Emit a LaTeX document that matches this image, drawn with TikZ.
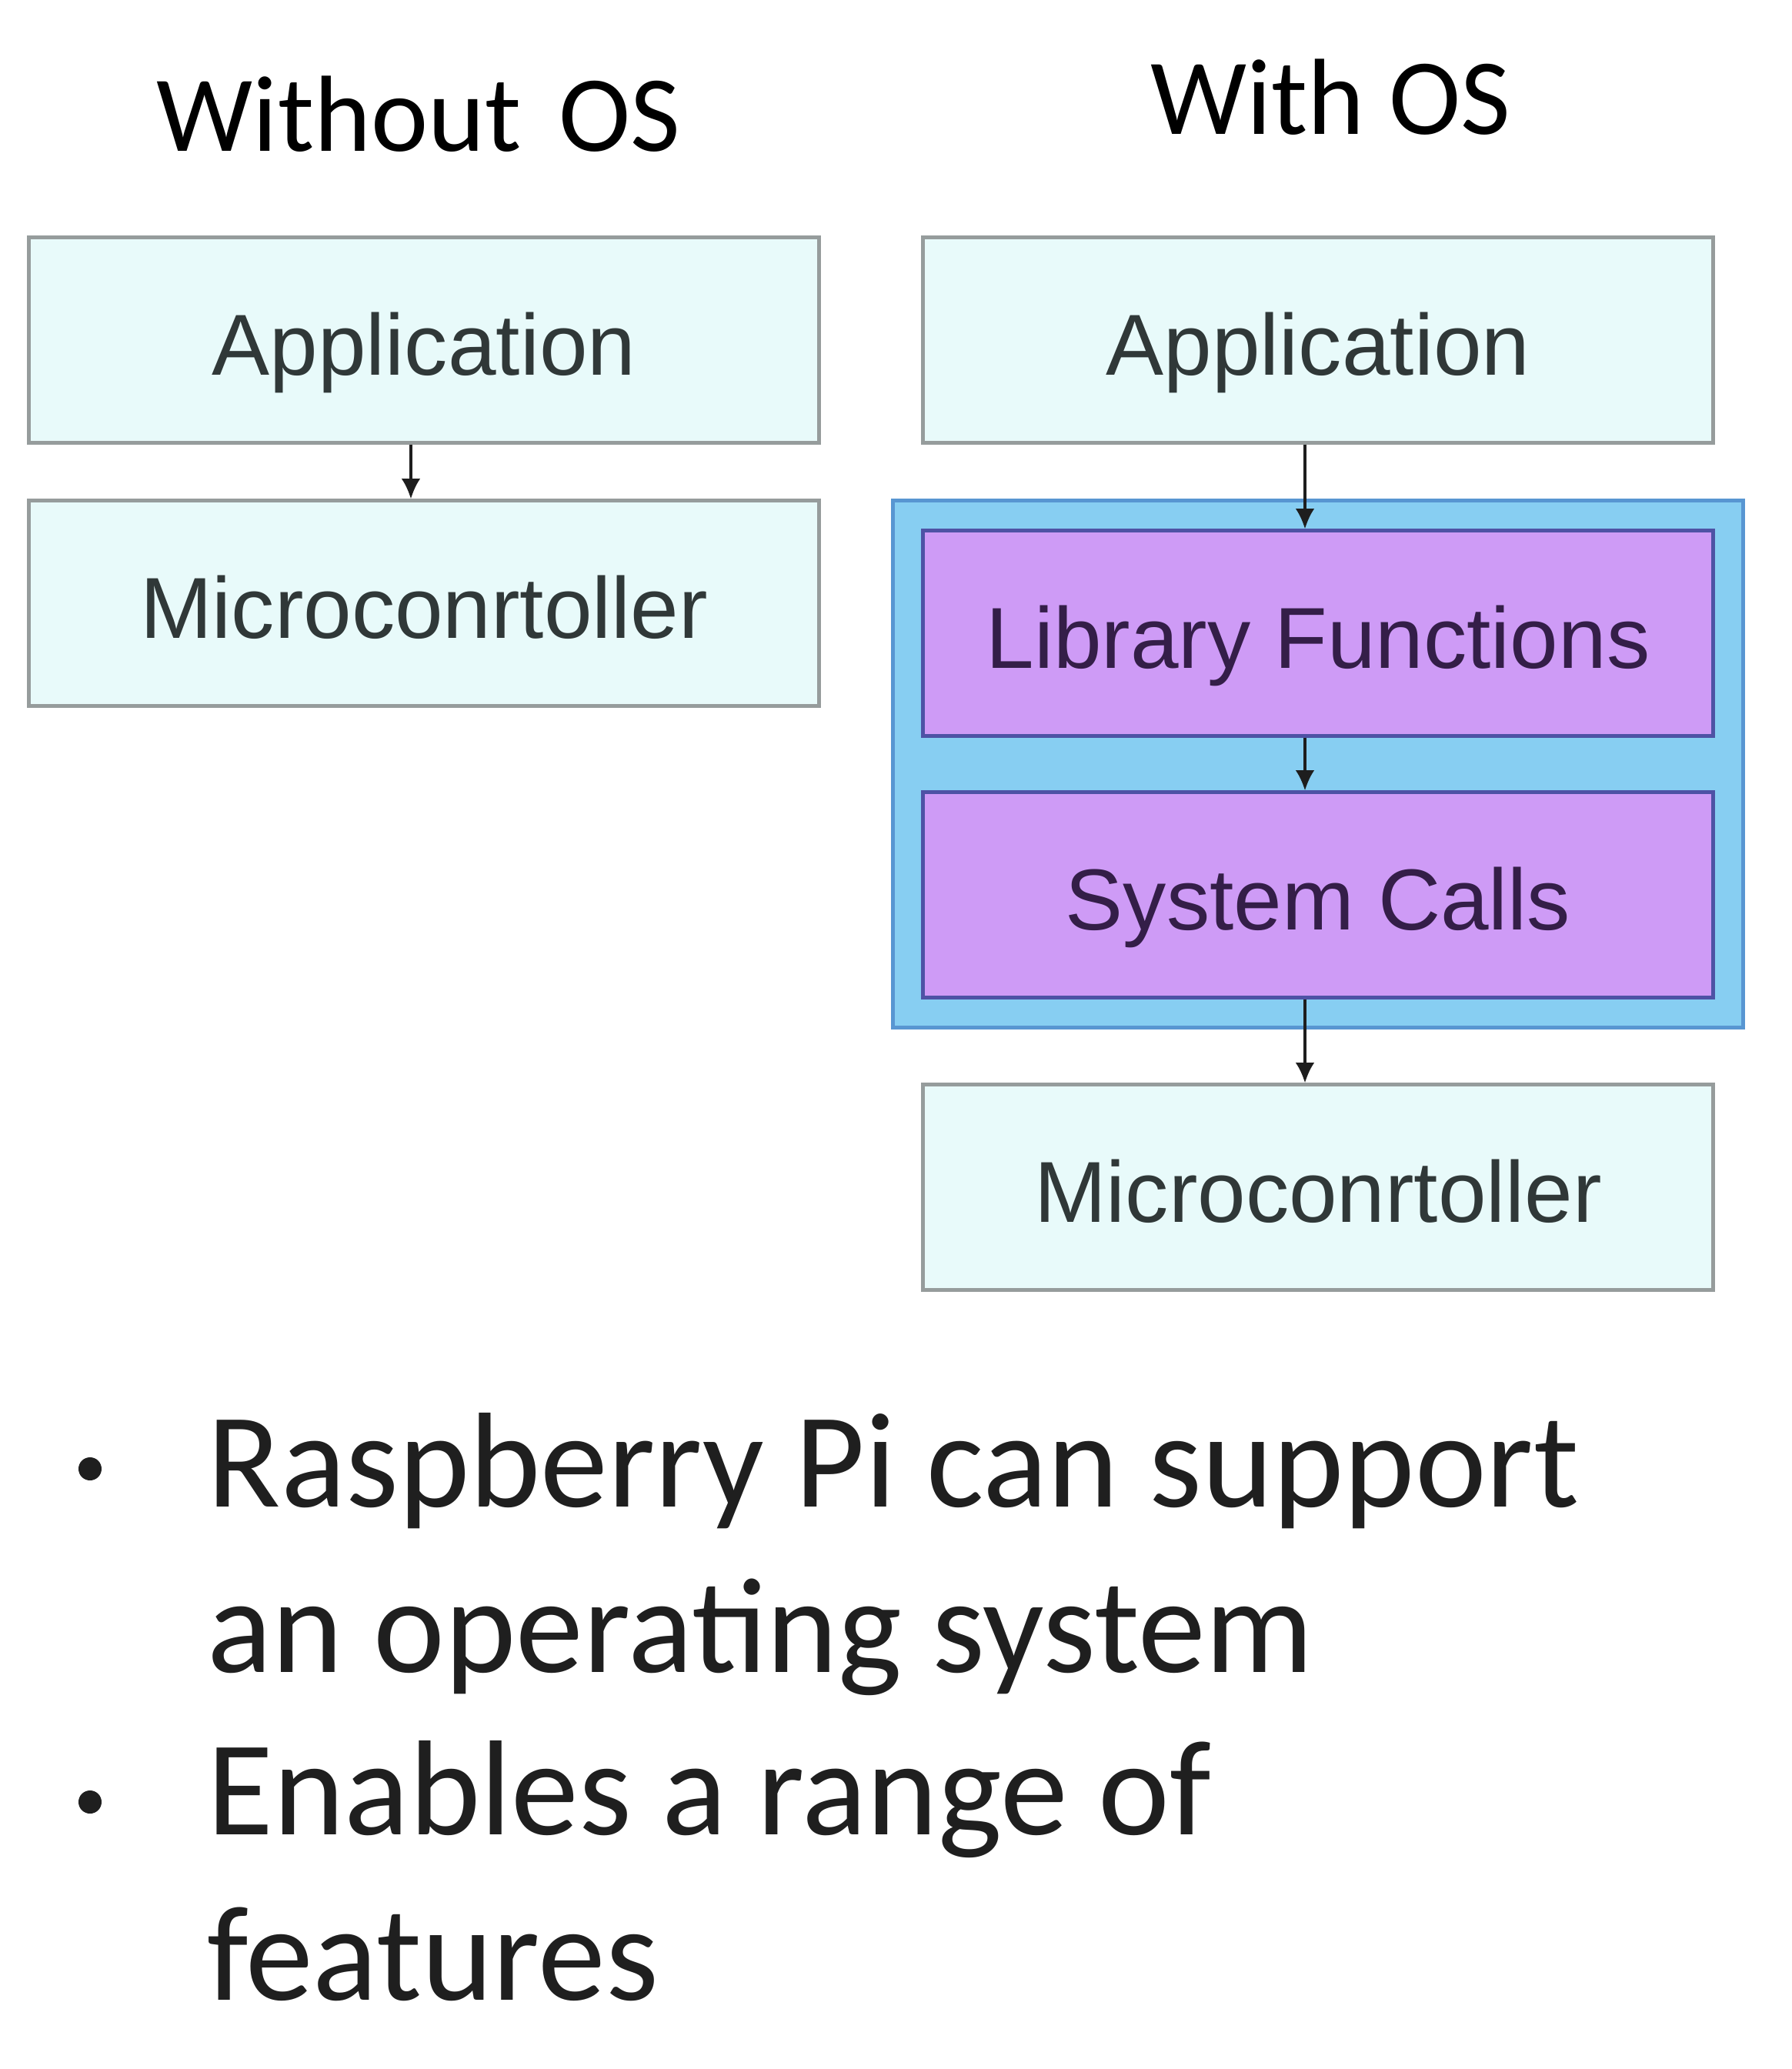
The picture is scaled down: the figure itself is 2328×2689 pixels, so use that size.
\documentclass[tikz,border=0pt]{standalone}
\usepackage{fontspec}
\setmainfont{Carlito}
\newfontfamily\arialfont{Liberation Sans}
\usetikzlibrary{positioning, fit, backgrounds, arrows.meta}
\definecolor{cyan538}{RGB}{232,250,250}
\definecolor{edge538}{RGB}{150,156,156}
\definecolor{text538}{RGB}{48,56,56}
\definecolor{blue538}{RGB}{135,206,242}
\definecolor{blueedge538}{RGB}{88,150,210}
\definecolor{purple538}{RGB}{206,155,246}
\definecolor{purpleedge538}{RGB}{78,82,165}
\definecolor{purpletext538}{RGB}{52,30,72}
\definecolor{arrow538}{RGB}{30,30,30}

\begin{document}
\begin{tikzpicture}[
          x = 0.01cm, y = -0.01cm, inner sep = 0,
          >={Latex[length=7.5pt,width=7pt]}
        ]
          \tikzstyle {layer} = [draw = edge538, line width = 1.4pt, fill = cyan538,
                                minimum width = 10.26cm, minimum height = 2.66cm,
                                text height = 26pt, text depth = 0pt,
                                font = \arialfont\fontsize{32}{38}\selectfont, text = text538]
          \tikzstyle {oslayer} = [layer, draw = purpleedge538, fill = purple538, text = purpletext538]
          \tikzstyle {title} = [anchor = base, font = \fontsize{40}{48}\selectfont]
          \tikzstyle {point} = [anchor = north west, align = left, font = \fontsize{50}{61}\selectfont, text = black!88]
          \tikzstyle {dot} = [circle, fill = black!88, minimum size = 0.3cm]
          \useasboundingbox (0,0) rectangle (2328,2689);
          % titles
          \path node (t0) [title] at (544,197) {Without\hskip0.35em OS};
          \path node (t1) [title] at (1729,175) {With OS};
          % place nodes
          \path node (app0) [layer] at (551,442) {Application};
          \path node (mcu0) [layer] at (551,784) {Microconrtoller};
          \path node (app1) [layer] at (1713,442) {Application};
          \path node (lib) [oslayer] at (1713,823) {Library Functions};
          \path node (sys) [oslayer] at (1713,1163) {System Calls};
          \path node (mcu1) [layer] at (1713,1543) {Microconrtoller};
          % place edges
          \foreach \a/\b in {app0/mcu0, app1/lib, lib/sys, sys/mcu1}
            { \draw [->, line width = 1pt, arrow538] ([xshift=-0.17cm]\a.south) -- ([xshift=-0.17cm]\b.north) ; } ;
          \begin{scope}[on background layer]
            \node (os) [draw = blueedge538, fill = blue538, line width = 1.4pt, inner sep = 0.37cm, fit = (lib) (sys)] {};
          \end{scope}
          % bullet points
          \path node (d0) [dot] at (117,1909) {};
          \path node (p0) [point] at (269,1836) {Raspberry Pi can support\\an operating system};
          \path node (d1) [dot] at (117,2342) {};
          \path node (p1) [point] at (269,2262) {Enables a range of\\features};
        \end{tikzpicture}
\end{document}
